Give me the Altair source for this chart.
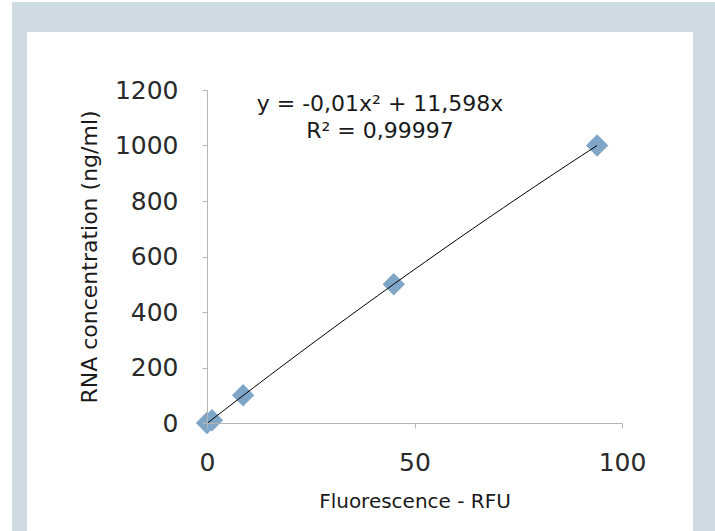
import altair as alt
import pandas as pd

# data
rfu = [0.0, 1.2, 8.7, 45.0, 94.0]
rna = [0.0, 10.0, 100.0, 500.0, 1000.0]
x_ticks = [0, 50, 100]
y_ticks = [0, 200, 400, 600, 800, 1000, 1200]
eq_lines = ["y = -0,01x² + 11,598x", "R² = 0,99997"]

df = pd.DataFrame({"x": rfu, "y": rna})

FONT = "DejaVu Sans"
W, H = 415, 333
L, T = 207, 90

xscale = alt.Scale(domain=[0, 100], nice=False)
yscale = alt.Scale(domain=[0, 1200], nice=False)

xs = alt.X("x:Q", scale=xscale,
           axis=alt.Axis(values=x_ticks, title="Fluorescence - RFU", grid=False, format="d",
                         labelFontSize=25, titleFontSize=20, labelPadding=22, labelFlush=False,
                         titlePadding=16, tickSize=5, titleFontWeight="normal", zindex=1))
ys = alt.Y("y:Q", scale=yscale,
           axis=alt.Axis(values=y_ticks, title="RNA concentration (ng/ml)", grid=False, format="d",
                         labelFontSize=25, titleFontSize=22, labelPadding=24, labelFlush=False,
                         titlePadding=13, tickSize=5, titleFontWeight="normal", zindex=1))

one = pd.DataFrame({"a": [0]})
bg_outer = alt.Chart(one).mark_rect(color="#cfdbe3").encode(
    x=alt.value(12 - L), x2=alt.value(715 - L), y=alt.value(2 - T), y2=alt.value(531 - T))
bg_inner = alt.Chart(one).mark_rect(color="#ffffff").encode(
    x=alt.value(27 - L), x2=alt.value(693 - L), y=alt.value(32 - T), y2=alt.value(531 - T))

base = alt.Chart(df)
points = base.mark_point(shape="diamond", filled=True, size=500, color="#7fa6c6", opacity=1).encode(x=xs, y=ys)
trend = base.transform_regression("x", "y", method="poly", order=2).mark_line(
    color="#000000", strokeWidth=1).encode(x=alt.X("x:Q", scale=xscale), y=alt.Y("y:Q", scale=yscale))

eq1 = alt.Chart(pd.DataFrame({"t": [eq_lines[0]]})).mark_text(
    font=FONT, fontSize=22, align="center", baseline="middle", color="#1a1a1a").encode(
    text="t:N", x=alt.value(380 - L), y=alt.value(104 - T))
eq2 = alt.Chart(pd.DataFrame({"t": [eq_lines[1]]})).mark_text(
    font=FONT, fontSize=22, align="center", baseline="middle", color="#1a1a1a").encode(
    text="t:N", x=alt.value(380 - L), y=alt.value(131 - T))

chart = alt.layer(bg_outer, bg_inner, points, trend, eq1, eq2).properties(
    width=W, height=H,
    autosize=alt.AutoSizeParams(type="none"),
    padding={"left": L, "top": T, "right": 715 - L - W, "bottom": 531 - T - H},
    background="#ffffff",
).configure_view(stroke=None).configure_axis(
    domainColor="#b5b5b5", tickColor="#b5b5b5", labelColor="#2a2a2a", titleColor="#1a1a1a",
    labelFont=FONT, titleFont=FONT,
)

chart.save("out.html", embed_options={"renderer": "svg", "actions": False})
